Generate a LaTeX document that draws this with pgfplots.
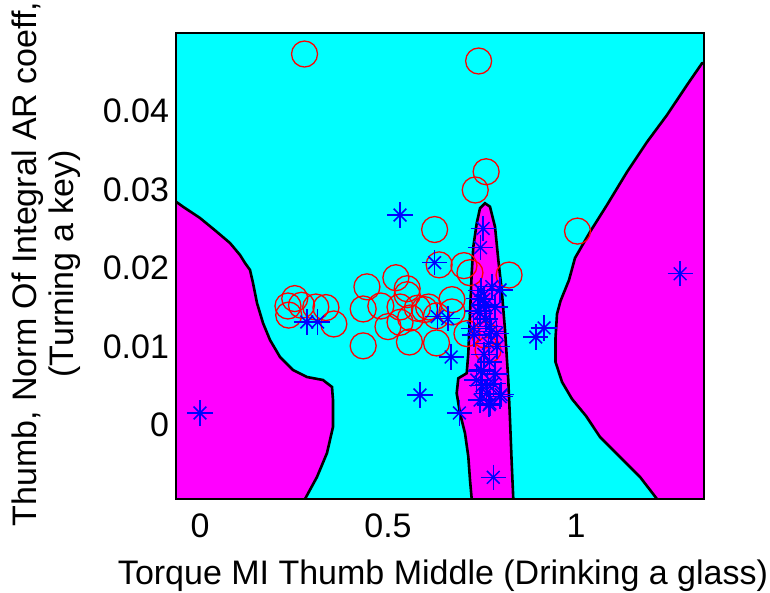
\documentclass[border=0pt]{standalone}
\usepackage{fontspec}
\setmainfont{Liberation Sans}
\usepackage{pgfplots}
\usepackage{pgfplotstable}
\pgfplotsset{compat=1.18}
\definecolor{mcyan}{RGB}{0,255,255}
\definecolor{mmag}{RGB}{255,0,255}
\definecolor{mred}{RGB}{255,0,0}
\definecolor{mblue}{RGB}{0,0,255}

\pgfplotstableread{
x y
0.278 0.04726
0.741 0.04637
0.761 0.03226
0.732 0.02994
0.624 0.0249
1.004 0.0247
0.636 0.0204
0.702 0.0203
0.718 0.0194
0.822 0.0191
0.521 0.01876
0.444 0.0176
0.551 0.01736
0.252 0.0161
0.234 0.01516
0.270 0.01525
0.308 0.01503
0.335 0.01496
0.236 0.0140
0.356 0.01287
0.434 0.01478
0.481 0.01516
0.532 0.01503
0.551 0.0166
0.500 0.01253
0.532 0.01308
0.560 0.01363
0.557 0.01057
0.597 0.01470
0.629 0.01390
0.629 0.01045
0.670 0.01597
0.670 0.0144
0.710 0.01164
0.434 0.01008
0.578 0.01487
0.608 0.01503
0.758 0.01146
0.766 0.00955
}\circles

\pgfplotstableread{
x y
0.532 0.02675
0.753 0.02504
0.746 0.02259
0.624 0.02068
1.277 0.01927
0.284 0.01312
0.313 0.01312
0.631 0.0138
0.659 0.01355
0.915 0.01236
0.893 0.01121
0.668 0.00866
0.585 0.00382
0.690 0.00153
0.000 0.00153
0.780 -0.00667
0.776 0.01762
0.798 0.0172
0.740 0.01614
0.758 0.01529
0.745 0.01423
0.727 0.01232
0.771 0.01252
0.789 0.01168
0.767 0.01041
0.749 0.0070
0.736 0.00573
0.780 0.00531
0.762 0.00404
0.798 0.0036
0.745 0.00318
0.771 0.00276
0.747 0.01712
0.738 0.01452
0.774 0.01191
0.729 0.01149
0.747 0.00688
0.765 0.00515
0.801 0.00386
0.769 0.00257
0.755 0.0160
0.785 0.0150
0.760 0.0135
0.790 0.0100
0.755 0.0090
0.770 0.0080
0.785 0.0065
0.750 0.0050
}\stars

\begin{document}
\begin{tikzpicture}
\begin{axis}[
  scale only axis, width=264pt, height=233pt,
  xmin=-0.0638, xmax=1.3404, ymin=-0.00943, ymax=0.04994,
  axis background/.style={fill=mcyan},
  scaled x ticks=false, scaled y ticks=false,
  xtick={0,0.5,1}, xticklabels={0,0.5,1},
  ytick={0,0.01,0.02,0.03,0.04}, yticklabels={0,0.01,0.02,0.03,0.04},
  major tick length=0pt,
  tick label style={font=\fontsize{17}{19}\selectfont},
  xticklabel style={yshift=-4pt},
  axis line style={black, line width=1pt},
  axis on top,
  xlabel={Torque MI Thumb Middle (Drinking a glass)},
  ylabel={Thumb, Norm Of Integral AR coeff,\\(Turning a key)},
  every axis x label/.style={at={([xshift=1.5pt,yshift=-38.5pt]axis description cs:0.5,0)}, anchor=center, font=\fontsize{17}{19}\selectfont},
  every axis y label/.style={at={([xshift=-65pt,yshift=1pt]axis description cs:0,0.5)}, rotate=90, anchor=center, align=center, font=\fontsize{17}{18.5}\selectfont},
]
% left magenta region
\addplot[fill=mmag, draw=none] coordinates {
(-0.0638,0.02845) (-0.0452,0.02781) (0,0.02637) (0.0452,0.02459) (0.0798,0.02318)
(0.1064,0.02166) (0.1197,0.02064) (0.1330,0.01975) (0.1410,0.01809) (0.1516,0.01554)
(0.1676,0.01299) (0.1862,0.01083) (0.2128,0.00866) (0.2473,0.00701) (0.2846,0.00611)
(0.3271,0.00573) (0.3511,0.00484) (0.3537,0.00318) (0.3537,-0.00025) (0.3378,-0.00357)
(0.3112,-0.00662) (0.2793,-0.00943) (-0.0638,-0.00943)} -- cycle;
% middle stripe
\addplot[fill=mmag, draw=none] coordinates {
(0.7226,-0.00943) (0.7181,-0.00701) (0.7136,-0.00404) (0.7048,-0.00106) (0.6915,0.00149)
(0.6827,0.00404) (0.6870,0.00595) (0.7093,0.00659) (0.7136,0.00913) (0.7181,0.01423)
(0.7226,0.01932) (0.7269,0.02271) (0.7359,0.02569) (0.7447,0.02761) (0.7580,0.02824)
(0.7713,0.02781) (0.7846,0.02526) (0.7934,0.02102) (0.8024,0.01720) (0.8112,0.01210)
(0.8199,0.00573) (0.8245,0.00064) (0.8290,-0.00488) (0.8332,-0.00943)} -- cycle;
% right magenta region
\addplot[fill=mmag, draw=none] coordinates {
(1.3404,-0.00943) (1.3404,0.04611) (1.3351,0.04608) (1.2952,0.04331) (1.2420,0.03949)
(1.1888,0.03605) (1.1356,0.03223) (1.0824,0.02803) (1.0372,0.02459) (0.9973,0.02127)
(0.9814,0.01847) (0.9588,0.01580) (0.9495,0.01414) (0.9455,0.01108) (0.9455,0.00803)
(0.9628,0.00548) (0.9894,0.00331) (1.0266,0.00115) (1.0638,-0.00153) (1.1170,-0.00408)
(1.1702,-0.00662) (1.2154,-0.00943)} -- cycle;
% boundaries
\addplot[black, line width=1.3pt] coordinates {
(-0.0638,0.02845) (-0.0452,0.02781) (0,0.02637) (0.0452,0.02459) (0.0798,0.02318)
(0.1064,0.02166) (0.1197,0.02064) (0.1330,0.01975) (0.1410,0.01809) (0.1516,0.01554)
(0.1676,0.01299) (0.1862,0.01083) (0.2128,0.00866) (0.2473,0.00701) (0.2846,0.00611)
(0.3271,0.00573) (0.3511,0.00484) (0.3537,0.00318) (0.3537,-0.00025) (0.3378,-0.00357)
(0.3112,-0.00662) (0.2793,-0.00943)};
\addplot[black, line width=1.3pt] coordinates {
(0.7226,-0.00943) (0.7181,-0.00701) (0.7136,-0.00404) (0.7048,-0.00106) (0.6915,0.00149)
(0.6827,0.00404) (0.6870,0.00595) (0.7093,0.00659) (0.7136,0.00913) (0.7181,0.01423)
(0.7226,0.01932) (0.7269,0.02271) (0.7359,0.02569) (0.7447,0.02761) (0.7580,0.02824)
(0.7713,0.02781) (0.7846,0.02526) (0.7934,0.02102) (0.8024,0.01720) (0.8112,0.01210)
(0.8199,0.00573) (0.8245,0.00064) (0.8290,-0.00488) (0.8332,-0.00943)};
\addplot[black, line width=1.3pt] coordinates {
(1.3404,0.04611) (1.3351,0.04608) (1.2952,0.04331) (1.2420,0.03949)
(1.1888,0.03605) (1.1356,0.03223) (1.0824,0.02803) (1.0372,0.02459) (0.9973,0.02127)
(0.9814,0.01847) (0.9588,0.01580) (0.9495,0.01414) (0.9455,0.01108) (0.9455,0.00803)
(0.9628,0.00548) (0.9894,0.00331) (1.0266,0.00115) (1.0638,-0.00153) (1.1170,-0.00408)
(1.1702,-0.00662) (1.2154,-0.00943)};
% points
\addplot[only marks, mark=o, mark size=6.5pt, mred, mark options={line width=0.65pt}] table {\circles};
\addplot[only marks, mark=+, mark size=6.3pt, mblue, mark options={line width=0.75pt}] table {\stars};
\addplot[only marks, mark=x, mark size=4.5pt, mblue, mark options={line width=0.75pt}] table {\stars};
\end{axis}
\pgfresetboundingbox
\path ([shift={(-88pt,-47pt)}]current axis.south west) rectangle ([shift={(33pt,16.5pt)}]current axis.north east);
\end{tikzpicture}
\end{document}
